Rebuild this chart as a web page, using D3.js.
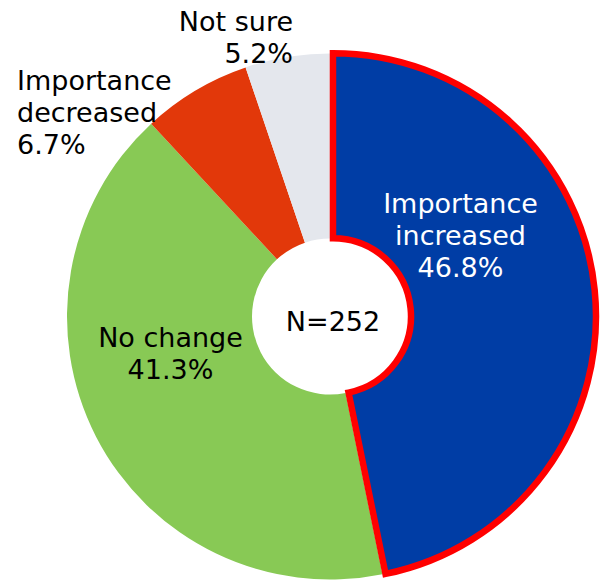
<!DOCTYPE html>
<html>
<head>
<meta charset="utf-8">
<script src="https://cdn.jsdelivr.net/npm/d3@7"></script>
<style>
  html, body { margin: 0; padding: 0; background: #ffffff; }
  svg { display: block; }
  text { font-family: "DejaVu Sans", Verdana, sans-serif; }
</style>
</head>
<body>
<svg id="chart" width="607" height="583"></svg>
<script>
const categories = ["Importance increased", "No change", "Importance decreased", "Not sure"];
const labelLines = [["Importance", "increased"], ["No change"], ["Importance", "decreased"], ["Not sure"]];
const values = [46.8, 41.3, 6.7, 5.2];
const sampleLabel = "N=252";
const colors = ["#003DA5", "#88C955", "#E2380A", "#E4E7ED"];

const width = 607, height = 583;
const cx = 330, cy = 316.5;
const innerR = 78, outerR = 263;
const explode = 3;
const fontSize = 27, lineH = 32;

// label anchor positions (layout only)
const labelPos = [
  { x: 460.5, y: 213, anchor: "middle", fill: "#ffffff" },
  { x: 170.5, y: 346.5, anchor: "middle", fill: "#000000" },
  { x: 17, y: 89.5, anchor: "start", fill: "#000000" },
  { x: 293, y: 31, anchor: "end", fill: "#000000" }
];

const svg = d3.select("#chart");
const g = svg.append("g").attr("transform", `translate(${cx},${cy})`);

const pie = d3.pie().sort(null).value(d => d.value).startAngle(0).endAngle(2 * Math.PI);
const data = categories.map((c, i) => ({ name: c, value: values[i], idx: i }));
const arcs = pie(data);
const arc = d3.arc().innerRadius(innerR).outerRadius(outerR);

// draw non-highlighted slices first, highlighted (index 0) last
const order = arcs.slice(1).concat([arcs[0]]);
g.selectAll("path.slice")
  .data(order)
  .enter()
  .append("path")
  .attr("class", "slice")
  .attr("d", arc)
  .attr("fill", d => colors[d.data.idx])
  .attr("transform", d => {
    if (d.data.idx !== 0) return null;
    const mid = (d.startAngle + d.endAngle) / 2;
    return `translate(${explode * Math.sin(mid)},${-explode * Math.cos(mid)})`;
  })
  .attr("stroke", d => d.data.idx === 0 ? "#FF0000" : "none")
  .attr("stroke-width", d => d.data.idx === 0 ? 6.5 : 0)
  .attr("stroke-linejoin", "miter");

// labels
arcs.forEach((d, i) => {
  const p = labelPos[i];
  const lines = labelLines[i].concat([d3.format(".1f")(values[i]) + "%"]);
  const t = svg.append("text")
    .attr("text-anchor", p.anchor)
    .attr("fill", p.fill)
    .attr("font-size", fontSize);
  lines.forEach((ln, j) => {
    t.append("tspan").attr("x", p.x).attr("y", p.y + j * lineH).text(ln);
  });
});

// center label
svg.append("text")
  .attr("x", 333).attr("y", 331)
  .attr("text-anchor", "middle")
  .attr("font-size", fontSize)
  .attr("fill", "#000000")
  .text(sampleLabel);
</script>
</body>
</html>
